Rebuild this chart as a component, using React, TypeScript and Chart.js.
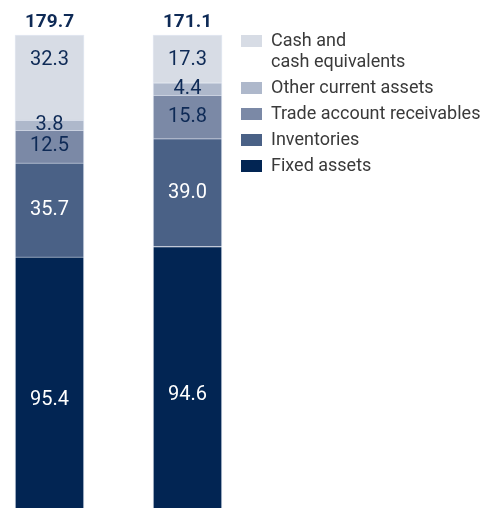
import React, { useEffect, useRef } from "react";
import { Chart, registerables } from "chart.js";

Chart.register(...registerables);

const categories = ["Year 1", "Year 2"];
const fixedAssets = [95.4, 94.6];
const inventories = [35.7, 39.0];
const tradeReceivables = [12.5, 15.8];
const otherCurrent = [3.8, 4.4];
const cashEquivalents = [32.3, 17.3];

const seriesValues = [fixedAssets, inventories, tradeReceivables, otherCurrent, cashEquivalents];
const seriesLabels: (string | string[])[] = [
  "Fixed assets",
  "Inventories",
  "Trade account receivables",
  "Other current assets",
  ["Cash and", "cash equivalents"],
];
const seriesColors = ["#022553", "#4a6186", "#7b89a6", "#aeb8cb", "#d7dce5"];
const labelColors = ["#ffffff", "#ffffff", "#0e2a56", "#0e2a56", "#0e2a56"];
const labelAnchors = ["lower", "center", "center", "center", "top"];

const totals = categories.map((_, i) => seriesValues.reduce((s, arr) => s + arr[i], 0));

const FONT = "Roboto, 'Noto Sans', Arial, sans-serif";

const segmentLabels = {
  id: "segmentLabels",
  afterDatasetsDraw(chart: any) {
    const ctx = chart.ctx;
    ctx.save();
    ctx.font = `400 20px ${FONT}`;
    ctx.textAlign = "center";
    ctx.textBaseline = "middle";
    chart.data.datasets.forEach((ds: any, di: number) => {
      const meta = chart.getDatasetMeta(di);
      meta.data.forEach((el: any, i: number) => {
        const { x, y, base } = el.getProps(["x", "y", "base"], true);
        const top = Math.min(y, base);
        const bottom = Math.min(Math.max(y, base), chart.chartArea.bottom);
        let ly = (top + bottom) / 2;
        if (ds.labelAnchor === "top") ly = top + 25;
        if (ds.labelAnchor === "lower") ly = (top + bottom) / 2 + 18;
        ctx.fillStyle = ds.labelColor;
        ctx.fillText(ds.rawValues[i].toFixed(1), x, ly);
      });
    });
    // totals
    ctx.font = `700 19px ${FONT}`;
    ctx.fillStyle = "#0e2a56";
    const meta0 = chart.getDatasetMeta(0);
    meta0.data.forEach((el: any, i: number) => {
      ctx.fillText(totals[i].toFixed(1), el.x, chart.chartArea.top - 13);
    });
    ctx.restore();
  },
};

const customLegend = {
  id: "customLegend",
  afterDraw(chart: any) {
    const ctx = chart.ctx;
    ctx.save();
    ctx.font = `400 18px ${FONT}`;
    ctx.textAlign = "left";
    ctx.textBaseline = "middle";
    let y = 41;
    const items = chart.data.datasets.slice().reverse();
    items.forEach((ds: any) => {
      ctx.fillStyle = ds.backgroundColor;
      ctx.fillRect(241, y - 6, 21, 12);
      ctx.fillStyle = "#3a3a3a";
      const lines = Array.isArray(ds.label) ? ds.label : [ds.label];
      lines.forEach((line: string, li: number) => {
        ctx.fillText(line, 271, y + li * 21);
      });
      y += (lines.length - 1) * 21 + 26;
    });
    ctx.restore();
  },
};

export default function App() {
  const ref = useRef<HTMLCanvasElement>(null);
  useEffect(() => {
    if (!ref.current) return;
    const chart = new Chart(ref.current, {
      type: "bar",
      data: {
        labels: categories,
        datasets: seriesValues.map((vals, si) => ({
          label: seriesLabels[si] as any,
          data: vals.map((v, i) => (v / totals[i]) * 100),
          rawValues: vals,
          labelColor: labelColors[si],
          labelAnchor: labelAnchors[si],
          backgroundColor: seriesColors[si],
          borderColor: "rgba(205,215,232,0.55)",
          borderWidth: 1,
          barThickness: 69,
          clip: false,
        })) as any,
      },
      options: {
        responsive: false,
        animation: false,
        devicePixelRatio: 1,
        layout: { padding: { left: 49.5, right: 296.5, top: 35, bottom: 0 } },
        plugins: { legend: { display: false }, tooltip: { enabled: false } },
        scales: {
          x: { stacked: true, display: false, offset: false },
          y: { stacked: true, display: false, min: 0, max: 100 },
        },
      },
      plugins: [segmentLabels, customLegend],
    });
    return () => chart.destroy();
  }, []);
  return (
    <div style={{ position: "fixed", left: 0, top: 0, width: 484, height: 508, background: "#fff" }}>
      <canvas ref={ref} width={484} height={508} />
    </div>
  );
}
